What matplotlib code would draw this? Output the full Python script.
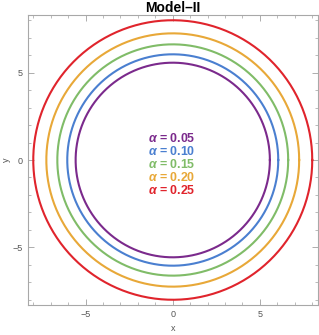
import numpy as np
import matplotlib
matplotlib.use("Agg")
import matplotlib.pyplot as plt

alphas = ["0.05", "0.10", "0.15", "0.20", "0.25"]
radii = [5.57, 6.05, 6.62, 7.25, 8.0]
colors = ["#7B2A8C", "#4A7FD0", "#80BC68", "#E8A838", "#E0242C"]
label_y = [1.24, 0.48, -0.25, -0.99, -1.72]

plt.rcParams['font.family'] = ['Liberation Sans', 'DejaVu Sans']
plt.rcParams['mathtext.fontset'] = 'custom'
plt.rcParams['mathtext.it'] = 'Liberation Sans:italic:bold'
plt.rcParams['mathtext.rm'] = 'Liberation Sans:bold'

fig = plt.figure(figsize=(3.19, 3.35), dpi=100)
ax = fig.add_axes([27.5/319, 30/335, 290.5/319, 290/335])

theta = np.linspace(0, 2*np.pi, 400)
for r, c in zip(radii, colors):
    ax.plot(r*np.cos(theta), r*np.sin(theta), color=c, lw=1.5)

for a, c, yy in zip(alphas, colors, label_y):
    ax.text(-1.4, yy, r"$\alpha$ = " + a, color=c, fontsize=8.9, fontweight='bold',
            ha='left', va='center')

ax.set_xlim(-8.33, 8.33)
ax.set_ylim(-8.3, 8.3)
ax.set_xticks([-5, 0, 5])
ax.set_yticks([-5, 0, 5])
ax.set_xticks(np.arange(-8, 9, 1), minor=True)
ax.set_yticks(np.arange(-8, 9, 1), minor=True)
ax.tick_params(which='both', direction='in', top=True, right=True, colors='#A0A0A0',
               labelcolor='#555555', labelsize=6.5)
ax.tick_params(which='major', length=4, width=0.6)
ax.tick_params(which='minor', length=2, width=0.5)
for s in ax.spines.values():
    s.set_color('#A8A8A8')
    s.set_linewidth(0.8)

ax.set_xlabel("x", fontsize=6.5, color='#555555', va='center')
ax.set_ylabel("y", fontsize=6.5, color='#555555', va='center')
ax.xaxis.set_label_coords(0.5, -0.08)
ax.yaxis.set_label_coords(-0.074, 0.5)
ax.set_title("Model\u2013II", fontsize=10, fontweight='bold', pad=2)

fig.savefig("out.png", dpi=100)
